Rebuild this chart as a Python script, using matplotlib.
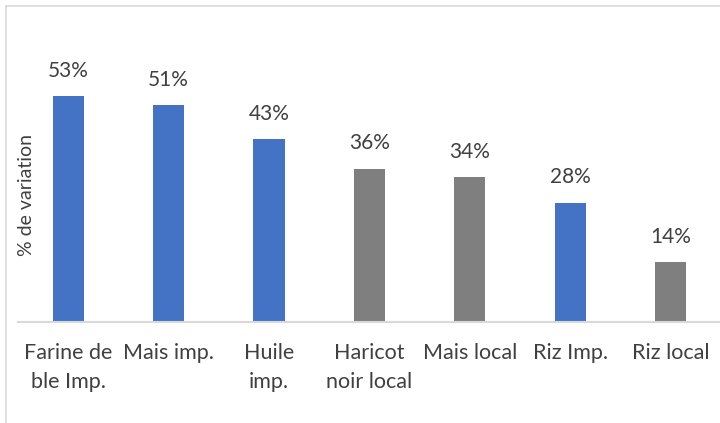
import matplotlib.pyplot as plt
from matplotlib.lines import Line2D

# data
categories = ['Farine de\nble Imp.', 'Mais imp.', 'Huile\nimp.', 'Haricot\nnoir local',
              'Mais local', 'Riz Imp.', 'Riz local']
values = [53, 51, 43, 36, 34, 28, 14]
imported = [True, True, True, False, False, True, False]

blue = '#4472C4'
grey = '#7F7F7F'
text_col = '#404040'

plt.rcParams['font.family'] = ['Lato', 'DejaVu Sans']

W, H = 720, 423
fig = plt.figure(figsize=(W / 100, H / 100), dpi=100)
ax = fig.add_axes([0.025, 0.2388, 0.976, 0.604])

colors = [blue if imp else grey for imp in imported]
x = range(len(categories))
ax.bar(x, values, width=0.31, color=colors, zorder=2)

for xi, v in zip(x, values):
    ax.annotate(f'{v}%', (xi, v), xytext=(0, 11), textcoords='offset points',
                ha='center', va='bottom', fontsize=15, color=text_col)

ax.set_xlim(-0.5, len(categories) - 0.5)
ax.set_ylim(0, 60)
ax.set_xticks(list(x))
ax.set_xticklabels(categories, fontsize=15.5, color=text_col, linespacing=1.55)
ax.tick_params(axis='x', length=0, pad=15)
ax.set_yticks([])

for s in ['top', 'right', 'left']:
    ax.spines[s].set_visible(False)
ax.spines['bottom'].set_color('#D9D9D9')
ax.spines['bottom'].set_linewidth(1.5)

fig.text(27 / W, 1 - 195 / H, '% de variation', rotation=90, fontsize=14,
         color=text_col, ha='center', va='center')

# light grey outer frame (chart area border)
fig.add_artist(Line2D([6 / W, 6 / W], [0, 1 - 6 / H], color='#D9D9D9', lw=1.2,
                      transform=fig.transFigure))
fig.add_artist(Line2D([6 / W, 1], [1 - 6 / H, 1 - 6 / H], color='#D9D9D9', lw=1.2,
                      transform=fig.transFigure))

fig.savefig('out.png', dpi=100)
